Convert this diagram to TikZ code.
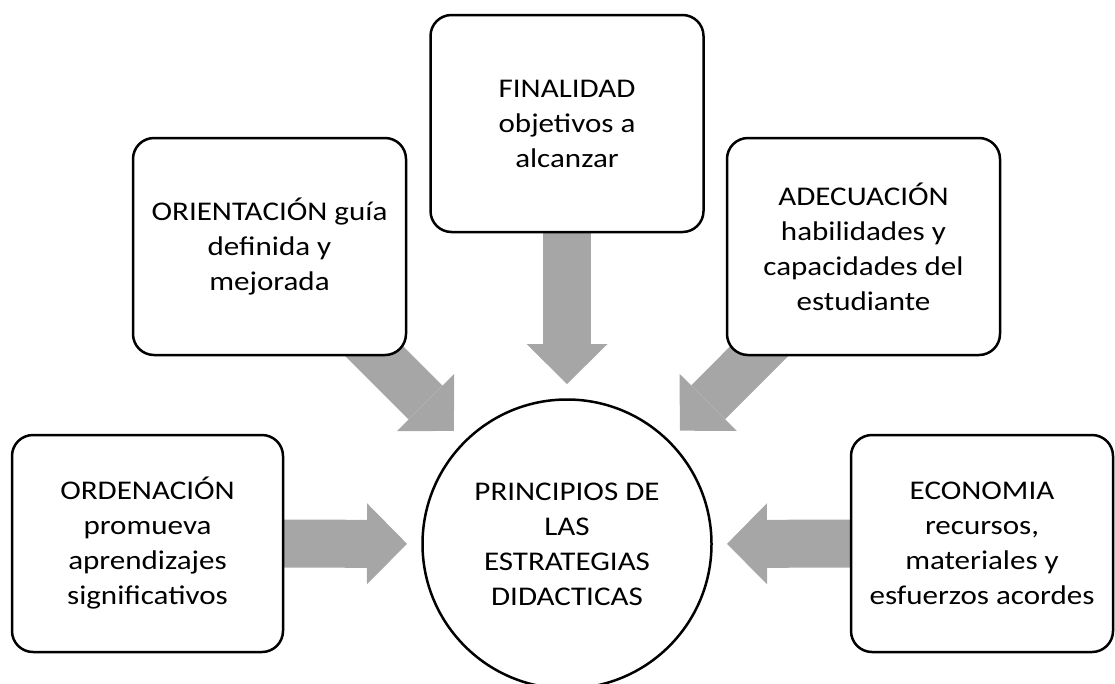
\documentclass[tikz,border=0pt]{standalone}
\usepackage{fontspec}
\setmainfont[FakeStretch=1.15]{Carlito}
\usetikzlibrary{arrows.meta,backgrounds}
\definecolor{arrowgray}{RGB}{166,166,166}
\begin{document}
\begin{tikzpicture}[x=1pt,y=-1pt,
  box/.style={draw, line width=2.5pt, rounded corners=21pt, fill=white,
    minimum height=217pt, align=center, inner sep=0pt,
    font=\fontsize{27}{35}\selectfont},
  hub/.style={circle, draw, line width=2.5pt, fill=white, minimum size=289pt,
    inner sep=0pt, align=center, font=\fontsize{27}{35}\selectfont},
  blockarrow/.style={draw=arrowgray, line width=48pt, shorten >=160pt,
    -{Triangle[width=81pt,length=40pt,line width=0pt]}}]
\clip (0,0) rectangle (1115,683);
\node[hub] (circ) at (567,544) {PRINCIPIOS DE\\LAS\\ESTRATEGIAS\\DIDACTICAS};
\node[box, minimum width=273pt] (fin) at (567,123.5) {FINALIDAD\\objetivos a\\alcanzar};
\node[box, minimum width=273pt] (ori) at (269.5,246.5) {ORIENTACIÓN guía\\definida y\\mejorada};
\node[box, minimum width=273pt] (ade) at (863.5,246.5) {ADECUACIÓN\\habilidades y\\capacidades del\\estudiante};
\node[box, minimum width=271pt] (ord) at (147.5,543.5) {ORDENACIÓN\\promueva\\aprendizajes\\significativos};
\node[box, minimum width=262pt] (eco) at (982,543.5) {ECONOMIA\\recursos,\\materiales y\\esfuerzos acordes};
\begin{pgfonlayer}{background}
  \draw[blockarrow] (fin.center) -- (circ.center);
  \draw[blockarrow] (ori.center) -- (circ.center);
  \draw[blockarrow] (ade.center) -- (circ.center);
  \draw[blockarrow] (ord.center) -- (circ.center);
  \draw[blockarrow] (eco.center) -- (circ.center);
\end{pgfonlayer}
\end{tikzpicture}
\end{document}
